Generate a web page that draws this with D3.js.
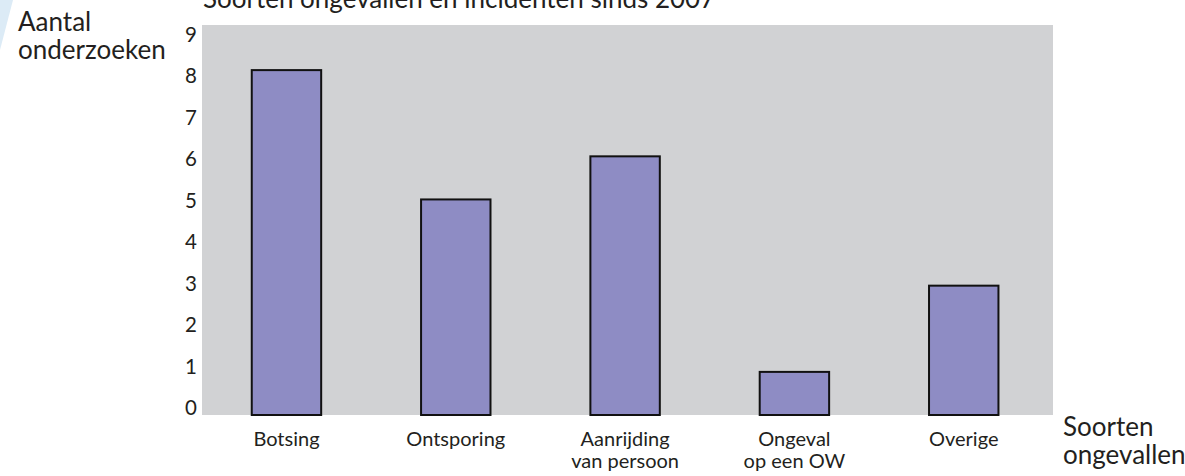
<!DOCTYPE html>
<html>
<head>
<meta charset="utf-8">
<script src="https://cdn.jsdelivr.net/npm/d3@7"></script>
<style>
  html, body { margin: 0; padding: 0; background: #ffffff; }
  svg { display: block; }
  text { font-family: Lato, "Noto Sans", sans-serif; fill: #231f20; }
</style>
</head>
<body>
<svg id="chart" width="1185" height="476"></svg>
<script>
const categories = [["Botsing"], ["Ontsporing"], ["Aanrijding", "van persoon"], ["Ongeval", "op een OW"], ["Overige"]];
const values = [8, 5, 6, 1, 3];
const tickValues = [0, 1, 2, 3, 4, 5, 6, 7, 8, 9];
const titleText = "Soorten ongevallen en incidenten sinds 2007";
const yTitle = ["Aantal", "onderzoeken"];
const xTitle = ["Soorten", "ongevallen"];

const W = 1185, H = 476;
const plot = { left: 202, right: 1053, top: 25, bottom: 415 };

const svg = d3.select("#chart");

// faint decoration top-left
svg.append("path")
  .attr("d", "M0,0 L13,0 L0,50 Z")
  .attr("fill", "#dcebf6");

const keys = categories.map(c => c.join(" "));

const x = d3.scaleBand()
  .domain(keys)
  .range([plot.left, plot.right])
  .paddingInner(0.59)
  .paddingOuter(0.308)
  .align(0.477);

const y = d3.scaleLinear()
  .domain([0, 9])
  .range([plot.bottom, 27]);

// label positions of the tick text (slightly compressed in the original)
const yLab = d3.scaleLinear()
  .domain([0, 9])
  .range([408, 34.5]);

// plot background
svg.append("rect")
  .attr("x", plot.left)
  .attr("y", plot.top)
  .attr("width", plot.right - plot.left)
  .attr("height", plot.bottom - plot.top)
  .attr("fill", "#d1d2d4");

// title (cut at top, as in the original)
svg.append("text")
  .attr("x", 203)
  .attr("y", 8)
  .attr("font-size", 26)
  .text(titleText);

// bars
svg.append("g").selectAll("rect")
  .data(values)
  .join("rect")
  .attr("x", (d, i) => x(keys[i]))
  .attr("y", d => y(d))
  .attr("width", x.bandwidth())
  .attr("height", d => y(0) - y(d))
  .attr("fill", "#8e8cc4")
  .attr("stroke", "#111111")
  .attr("stroke-width", 2);

// y tick labels
svg.append("g").selectAll("text")
  .data(tickValues)
  .join("text")
  .attr("x", 197)
  .attr("y", d => yLab(d))
  .attr("dy", "0.36em")
  .attr("text-anchor", "end")
  .attr("font-size", 20.5)
  .text(d => d);

// category labels
const cat = svg.append("g").selectAll("text")
  .data(categories)
  .join("text")
  .attr("text-anchor", "middle")
  .attr("font-size", 20)
  .attr("transform", (d, i) => `translate(${x(keys[i]) + x.bandwidth() / 2},446)`);
cat.selectAll("tspan")
  .data(d => d)
  .join("tspan")
  .attr("x", 0)
  .attr("y", (d, j) => j * 22)
  .text(d => d);

// y axis title
const yt = svg.append("text").attr("font-size", 26);
yt.selectAll("tspan").data(yTitle).join("tspan")
  .attr("x", 18)
  .attr("y", (d, j) => 30.5 + j * 28)
  .text(d => d);

// x axis title
const xt = svg.append("text").attr("font-size", 26);
xt.selectAll("tspan").data(xTitle).join("tspan")
  .attr("x", 1063)
  .attr("y", (d, j) => 435.5 + j * 28)
  .text(d => d);
</script>
</body>
</html>
